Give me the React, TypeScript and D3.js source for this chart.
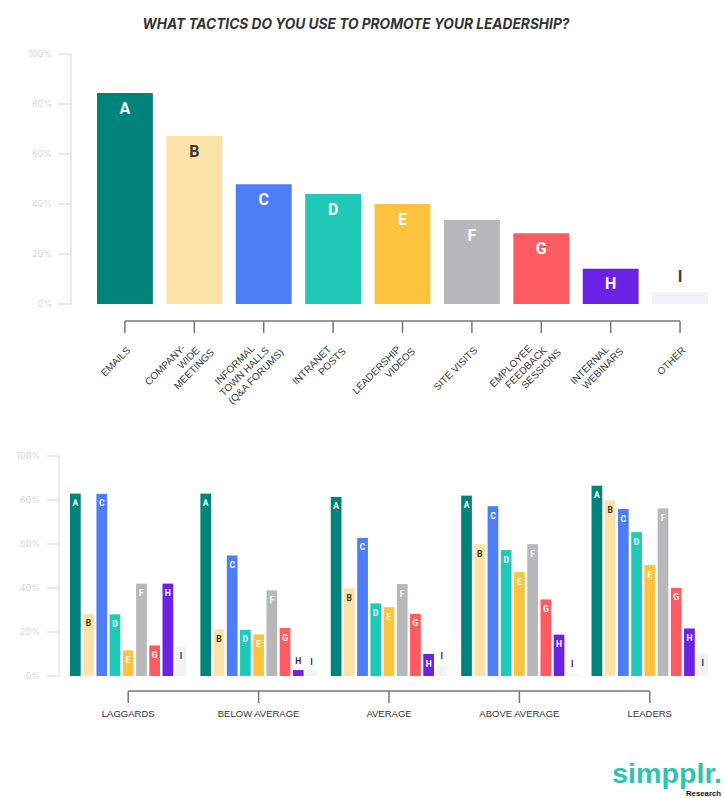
import React from "react";
import * as d3 from "d3";

const letters = ["A", "B", "C", "D", "E", "F", "G", "H", "I"];
const tacticLabels = [
  ["EMAILS"],
  ["COMPANY-", "WIDE", "MEETINGS"],
  ["INFORMAL", "TOWN HALLS", "(Q&A FORUMS)"],
  ["INTRANET", "POSTS"],
  ["LEADERSHIP", "VIDEOS"],
  ["SITE VISITS"],
  ["EMPLOYEE", "FEEDBACK", "SESSIONS"],
  ["INTERNAL", "WEBINARS"],
  ["OTHER"],
];
const overallValues = [84.4, 67.2, 47.9, 44, 40, 33.6, 28.3, 14.1, 4.7];

const groups = ["LAGGARDS", "BELOW AVERAGE", "AVERAGE", "ABOVE AVERAGE", "LEADERS"];
const laggards = [82.9, 28.3, 82.8, 28, 11.6, 42, 13.9, 42, 13.3];
const belowAverage = [82.9, 21.2, 54.8, 21, 18.9, 38.9, 21.8, 2.7, 2.5];
const average = [81.4, 39.9, 62.8, 33, 31.3, 41.8, 28.3, 10, 4.8];
const aboveAverage = [82, 59.9, 77.2, 57.2, 47.2, 59.9, 34.8, 18.8, 1.2];
const leaders = [86.5, 79.9, 75.9, 65.4, 50.4, 76.2, 40.1, 21.6, 10.3];
const groupValues = [laggards, belowAverage, average, aboveAverage, leaders];

const yTicks = [0, 20, 40, 60, 80, 100];

const colors = ["#00837b", "#fde3a7", "#4d7ef7", "#21c9b9", "#fcc43e", "#b8b7ba", "#fe5b62", "#6c22e5", "#f3f2f6"];
const darkLetters = ["B", "I"];

const labelFont = "'Liberation Sans', Arial, sans-serif";

export default function App() {
  // top chart
  const xTop = d3.scaleBand<string>().domain(letters).range([97, 708]).paddingInner(0.195).paddingOuter(0);
  const yTop = d3.scaleLinear().domain([0, 100]).range([304, 54]);

  // bottom chart
  const xGroup = d3.scaleBand<string>().domain(groups).range([70, 708]).paddingInner(0.107).paddingOuter(0);
  const xInner = d3.scaleBand<string>().domain(letters).range([0, xGroup.bandwidth()]).paddingInner(0.19).paddingOuter(0);
  const yBot = d3.scaleLinear().domain([0, 100]).range([676, 456]);

  const topCenters = letters.map((l) => (xTop(l) as number) + xTop.bandwidth() / 2);
  const groupCenters = groups.map((g) => (xGroup(g) as number) + xGroup.bandwidth() / 2);

  return (
    <svg width={724} height={798} style={{ position: "absolute", left: 0, top: 0, background: "#fff" }}>
      <text
        x={356}
        y={29}
        textAnchor="middle"
        fontFamily="Inter, 'Liberation Sans', sans-serif"
        fontWeight={700}
        fontStyle="italic"
        fontSize={14}
        fill="#333"
        textLength={427}
        lengthAdjust="spacingAndGlyphs"
      >
        WHAT TACTICS DO YOU USE TO PROMOTE YOUR LEADERSHIP?
      </text>

      {/* top y axis */}
      <line x1={71} x2={71} y1={yTop(100)} y2={yTop(0)} stroke="#e6e6e6" strokeWidth={1.5} />
      {yTicks.map((t) => (
        <g key={"yt" + t}>
          <line x1={58} x2={71} y1={yTop(t)} y2={yTop(t)} stroke="#e6e6e6" strokeWidth={1.5} />
          <text x={52} y={yTop(t) + 3} textAnchor="end" fontSize={9} fontFamily="Inter, sans-serif" fill="#d8d8d8">
            {t}%
          </text>
        </g>
      ))}

      {/* top bars */}
      {letters.map((l, i) => {
        const v = overallValues[i];
        const top = yTop(v);
        const above = v < 8;
        const dark = darkLetters.includes(l) || above;
        return (
          <g key={"tb" + l}>
            <rect x={xTop(l)} y={top} width={xTop.bandwidth()} height={yTop(0) - top} fill={colors[i]} />
            <text
              x={topCenters[i]}
              y={above ? top - 16 : top + 15}
              textAnchor="middle"
              dominantBaseline="central"
              fontFamily="Roboto, 'Liberation Sans', sans-serif"
              fontWeight={700}
              fontSize={16}
              fill={dark ? "#3d3a36" : "#fff"}
            >
              {l}
            </text>
          </g>
        );
      })}

      {/* top x axis */}
      <line x1={topCenters[0]} x2={topCenters[8]} y1={321} y2={321} stroke="#777" strokeWidth={1.5} />
      {topCenters.map((cx, i) => (
        <line key={"xt" + i} x1={cx} x2={cx} y1={321} y2={333} stroke="#777" strokeWidth={1.5} />
      ))}
      {tacticLabels.map((lines, i) =>
        lines.map((ln, j) => {
          const off = j - (lines.length - 1) / 2;
          const px = topCenters[i] + 6 + off * 14.5;
          const py = 351 + off * 2;
          return (
            <text
              key={"xl" + i + "-" + j}
              transform={`translate(${px},${py}) rotate(-45)`}
              textAnchor="end"
              fontFamily={labelFont}
              fontSize={10}
              fill="#3a3a3a"
            >
              {ln}
            </text>
          );
        })
      )}

      {/* bottom y axis */}
      <line x1={59} x2={59} y1={yBot(100)} y2={yBot(0)} stroke="#e6e6e6" strokeWidth={1.5} />
      {yTicks.map((t) => (
        <g key={"yb" + t}>
          <line x1={47} x2={59} y1={yBot(t)} y2={yBot(t)} stroke="#e6e6e6" strokeWidth={1.5} />
          <text x={40} y={yBot(t) + 3} textAnchor="end" fontSize={9} fontFamily="Inter, sans-serif" fill="#d8d8d8">
            {t}%
          </text>
        </g>
      ))}

      {/* bottom bars */}
      {groups.map((g, gi) => (
        <g key={"g" + g} transform={`translate(${xGroup(g)},0)`}>
          {letters.map((l, i) => {
            const v = groupValues[gi][i];
            const top = yBot(v);
            const above = v < 6;
            const dark = darkLetters.includes(l) || above;
            return (
              <g key={"bb" + l}>
                <rect x={xInner(l)} y={top} width={xInner.bandwidth()} height={yBot(0) - top} fill={colors[i]} />
                <text
                  x={(xInner(l) as number) + xInner.bandwidth() / 2}
                  y={above ? top - 9 : top + 9.5}
                  textAnchor="middle"
                  dominantBaseline="central"
                  fontFamily="Roboto, 'Liberation Sans', sans-serif"
                  fontWeight={700}
                  fontSize={8.5}
                  fill={dark ? "#333" : "#fff"}
                >
                  {l}
                </text>
              </g>
            );
          })}
        </g>
      ))}

      {/* bottom x axis */}
      <line x1={groupCenters[0]} x2={groupCenters[4]} y1={691} y2={691} stroke="#777" strokeWidth={1.5} />
      {groupCenters.map((cx, i) => (
        <g key={"gx" + i}>
          <line x1={cx} x2={cx} y1={691} y2={703} stroke="#777" strokeWidth={1.5} />
          <text x={cx} y={717} textAnchor="middle" fontFamily={labelFont} fontSize={9.5} fill="#333">
            {groups[i]}
          </text>
        </g>
      ))}

      {/* logo */}
      <text
        x={612}
        y={783}
        fontFamily="'Liberation Sans', Arial, sans-serif"
        fontWeight={700}
        fontSize={27}
        fill="#2fc4b1"
        textLength={110}
        lengthAdjust="spacingAndGlyphs"
      >
        simpplr.
      </text>
      <text
        x={686}
        y={796}
        fontFamily="'Liberation Sans', Arial, sans-serif"
        fontWeight={700}
        fontSize={7.5}
        fill="#111"
        textLength={35}
        lengthAdjust="spacingAndGlyphs"
      >
        Research
      </text>
    </svg>
  );
}
